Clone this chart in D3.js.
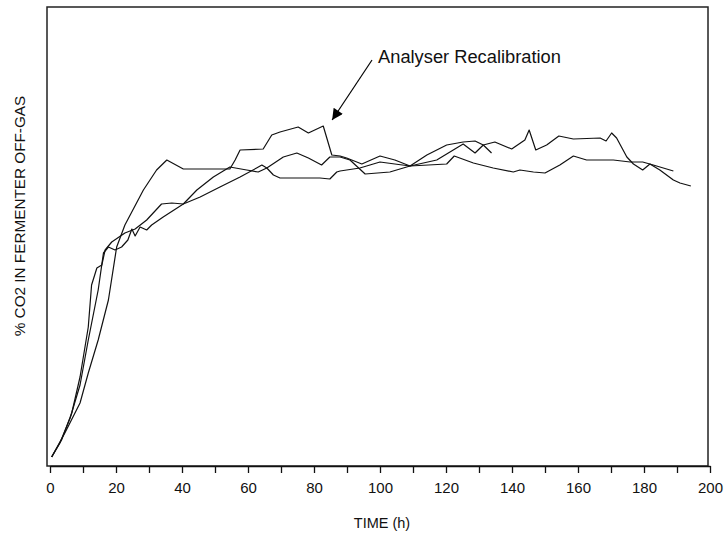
<!DOCTYPE html>
<html>
<head>
<meta charset="utf-8">
<script src="https://cdn.jsdelivr.net/npm/d3@7"></script>
<style>
  body { margin: 0; background: #fff; }
  svg { display: block; }
</style>
</head>
<body>
<div id="chart"></div>
<script>

// Three fermentation runs: [time (h), % CO2]
// (y axis has no labels in the original, units are a guess)
var runA = [
    [0.5,0.09],[4.5,0.33],[9.1,0.63],[11.6,0.93],[14.6,1.26],[17.7,1.66],[20.2,2.19],
    [22.7,2.41],[28.3,2.76],[32.3,2.96],[35.4,3.06],[40.4,2.97],[54.5,2.97],[56.1,3.06],
    [57.6,3.16],[64.6,3.17],[67.2,3.31],[69.7,3.34],[75.2,3.39],[78.3,3.33],[82.8,3.40],
    [85.4,3.11],[87.9,3.10],[89.9,3.08],[94.5,3.02],[100,3.10],[104.5,3.06],[109.1,3.00],
    [114.2,3.11],[120.2,3.21],[125.2,3.24],[128.8,3.25],[131.3,3.21],[133.8,3.13]
];

var runB = [
    [0.5,0.09],[3.5,0.26],[6.6,0.53],[9.1,0.89],[11.6,1.39],[12.6,1.81],[14.2,1.98],
    [15.7,2.01],[16.7,2.16],[18.7,2.24],[22.7,2.33],[25.8,2.37],[29.3,2.46],[33.8,2.62],
    [36.9,2.63],[40.4,2.62],[44.5,2.76],[49.5,2.89],[54.5,2.99],[59.6,2.96],[63.1,2.94],
    [65.7,2.98],[70.7,3.09],[74.8,3.13],[78.3,3.08],[82.3,3.01],[84.8,3.09],[87.9,3.09],
    [90.9,3.06],[95.5,2.92],[103.0,2.94],[109.1,3.00],[117.2,3.06],[122.2,3.16],[125.2,3.22],
    [128.8,3.13],[131.3,3.21],[134.8,3.24],[139.9,3.17],[143.9,3.26],[145.2,3.36],[147.2,3.16],
    [150.5,3.21],[154.2,3.30],[158.6,3.27],[166.7,3.28],[168.5,3.25],[170.2,3.33],[171.7,3.28],
    [174.8,3.09],[176.8,3.02],[179.6,2.96],[181.8,3.02],[184.8,2.96],[188.9,2.86],[190.9,2.83],
    [194.2,2.80]
];

var runC = [
    [0.5,0.09],[3.0,0.23],[6.1,0.48],[9.1,0.81],[11.6,1.26],[14.6,1.76],[16.2,2.13],
    [17.7,2.19],[19.7,2.16],[21.7,2.19],[23.6,2.26],[24.8,2.37],[25.8,2.30],[27.3,2.39],
    [29.3,2.36],[30.8,2.41],[34.3,2.49],[40.4,2.62],[45.5,2.69],[51.5,2.79],[57.6,2.89],
    [62.6,2.98],[64.2,3.01],[65.7,2.98],[67.7,2.91],[69.7,2.88],[75.8,2.88],[81.8,2.88],
    [84.8,2.87],[86.9,2.94],[87.9,2.95],[93.9,2.98],[100.0,3.04],[104.5,3.02],[109.1,3.00],
    [120.2,3.02],[122.5,3.10],[128.3,3.03],[134.3,2.98],[140.4,2.94],[142.4,2.96],[146.5,2.94],
    [150.0,2.93],[154.5,3.01],[158.6,3.10],[162.6,3.06],[170.7,3.06],[175.8,3.04],[179.6,3.04],
    [182.8,3.01],[188.9,2.95]
];

var xTicks = d3.range(0, 201, 10);
var xTickLabels = d3.range(0, 201, 20);

// annotation: label anchor and arrow tip, in data units
var noteText = "Analyser Recalibration";
var noteLabel = [99.4, 4.03];
var noteTip = [85.5, 3.46];


var chart = {

    settings : {
        width : 728,
        height : 534,
        left : 50,//px, x of t = 0
        right : 710,//px, x of t = 200
        top : 6,//px
        bottom : 466,//px, axis line
        yMax : 4.6,
        tickLen : 7,//px
        font : "'Liberation Sans', Arial, Helvetica, sans-serif",
        tickFont : "'Liberation Sans Narrow', 'Liberation Sans', Arial, sans-serif"
    },

    draw : function(){
        var s = chart.settings;

        var svg = d3.select("#chart").append("svg")
            .attr("width", s.width)
            .attr("height", s.height);

        var x = d3.scaleLinear().domain([0, 200]).range([s.left, s.right]);
        var y = d3.scaleLinear().domain([0, s.yMax]).range([s.bottom, s.top]);

        // frame
        svg.append("rect")
            .attr("x", s.left - 3)
            .attr("y", s.top + 1)
            .attr("width", s.right - s.left + 1)
            .attr("height", s.bottom - s.top - 1)
            .attr("fill", "none")
            .attr("stroke", "#222")
            .attr("stroke-width", 1.5);

        // x axis, ticks every 10 h, labels every 20 h
        var axis = svg.append("g")
            .attr("transform", "translate(0," + s.bottom + ")")
            .call(d3.axisBottom(x)
                .tickValues(xTicks)
                .tickSize(s.tickLen)
                .tickSizeOuter(0)
                .tickPadding(9)
                .tickFormat(function(d){ return xTickLabels.indexOf(d) >= 0 ? d : ""; }));
        axis.select(".domain").attr("stroke", "#111").attr("stroke-width", 1.6);
        axis.selectAll(".tick line").attr("stroke", "#111").attr("stroke-width", 1.3);
        axis.selectAll(".tick text")
            .attr("fill", "#111")
            .style("font-family", s.tickFont)
            .style("font-size", "15px");

        // axis titles
        svg.append("text")
            .attr("x", (s.left + s.right) / 2 + 2)
            .attr("y", 528)
            .attr("text-anchor", "middle")
            .style("font-family", s.font)
            .style("font-size", "14.5px")
            .attr("fill", "#111")
            .text("TIME (h)");

        svg.append("text")
            .attr("transform", "translate(25,216) rotate(-90)")
            .attr("text-anchor", "middle")
            .style("font-family", s.font)
            .style("font-size", "15.3px")
            .attr("fill", "#111")
            .text("% CO2 IN FERMENTER OFF-GAS");

        // the three runs
        var line = d3.line()
            .x(function(d){ return x(d[0]); })
            .y(function(d){ return y(d[1]); });

        svg.selectAll("path.run")
            .data([runA, runB, runC])
            .enter().append("path")
            .attr("class", "run")
            .attr("d", line)
            .attr("fill", "none")
            .attr("stroke", "#111")
            .attr("stroke-width", 1.2)
            .attr("stroke-linejoin", "round");

        // annotation arrow
        svg.append("defs").append("marker")
            .attr("id", "head")
            .attr("viewBox", "0 0 10 10")
            .attr("refX", 10).attr("refY", 5)
            .attr("markerWidth", 20).attr("markerHeight", 11)
            .attr("markerUnits", "userSpaceOnUse")
            .attr("orient", "auto")
            .append("path")
            .attr("d", "M0,0 L10,5 L0,10 z")
            .attr("fill", "#000");

        svg.append("line")
            .attr("x1", x(noteLabel[0]) - 6)
            .attr("y1", y(noteLabel[1]) - 3)
            .attr("x2", x(noteTip[0]))
            .attr("y2", y(noteTip[1]))
            .attr("stroke", "#000")
            .attr("stroke-width", 1.2)
            .attr("marker-end", "url(#head)");

        svg.append("text")
            .attr("x", x(noteLabel[0]))
            .attr("y", y(noteLabel[1]))
            .style("font-family", s.font)
            .style("font-size", "18.3px")
            .attr("fill", "#111")
            .text(noteText);
    }
};

chart.draw();

</script>
</body>
</html>
